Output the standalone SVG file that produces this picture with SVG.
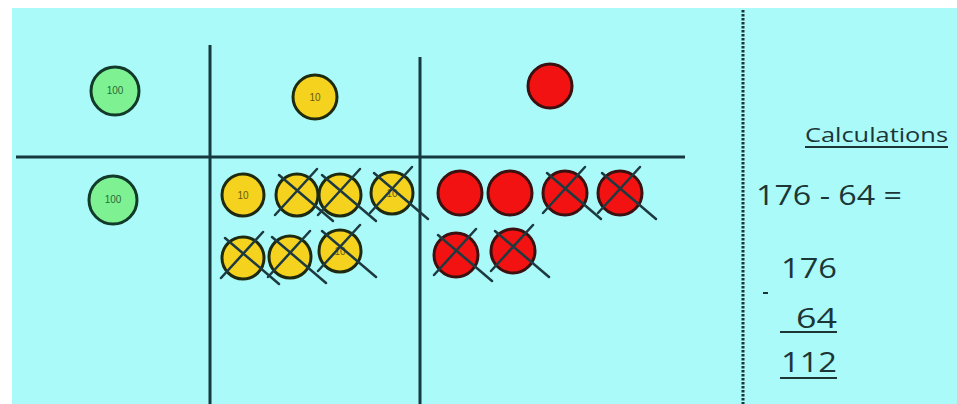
<svg xmlns="http://www.w3.org/2000/svg" width="957" height="404" viewBox="0 0 957 404">
<style>
.grid{stroke:#15393f;stroke-width:3;fill:none}
.g{fill:#7ef292;stroke:#123a2a;stroke-width:3}
.y{fill:#f4d21e;stroke:#1e2a10;stroke-width:3}
.r{fill:#f21212;stroke:#3a1010;stroke-width:3}
.x{stroke:#1d3a40;stroke-width:2.5;stroke-linecap:round}
.ct{font-family:"Liberation Sans",Arial,sans-serif;font-size:10px;text-anchor:middle}
.t{font-family:"Open Sans","Liberation Sans",sans-serif;fill:#1c3535}
.u{stroke:#1c3535;stroke-width:2}
</style>
<defs>
<g id="cross">
<line class="x" x1="-18" y1="-20" x2="36" y2="26"/>
<line class="x" x1="20" y1="-26" x2="-22" y2="20"/>
</g>
</defs>
<rect x="0" y="0" width="957" height="404" fill="#ffffff"/>
<rect x="12" y="8" width="945" height="396" fill="#aafafa"/>
<g id="connectors">
<line class="grid" x1="210" y1="45" x2="210" y2="404"/>
<line class="grid" x1="420" y1="57" x2="420" y2="404"/>
<line class="grid" x1="16" y1="157" x2="685" y2="157"/>
<line stroke="#1c3535" stroke-width="3" stroke-dasharray="2.5 1.5" x1="743" y1="10" x2="743" y2="404"/>
</g>
<g id="hundreds-top"><circle class="g" cx="115" cy="91" r="24"/><text class="ct" x="115" y="94" fill="#2a6a3a">100</text></g>
<g id="tens-top"><circle class="y" cx="315" cy="97" r="22"/><text class="ct" x="315" y="101" fill="#6a5a10">10</text></g>
<g id="ones-top"><circle class="r" cx="550" cy="86" r="22"/></g>
<g id="hundreds-bottom"><circle class="g" cx="113" cy="200" r="24"/><text class="ct" x="113" y="203" fill="#2a6a3a">100</text></g>
<g id="tens-bottom">
<circle class="y" cx="243" cy="195" r="21"/><text class="ct" x="243" y="199" fill="#6a5a10">10</text>
<circle class="y" cx="297" cy="195" r="21"/>
<circle class="y" cx="340" cy="195" r="21"/>
<circle class="y" cx="392" cy="193" r="21"/><text class="ct" x="392" y="197" fill="#6a5a10">10</text>
<circle class="y" cx="243" cy="258" r="21"/>
<circle class="y" cx="290" cy="257" r="21"/>
<circle class="y" cx="340" cy="251" r="21"/><text class="ct" x="340" y="255" fill="#6a5a10">10</text>
<use href="#cross" x="297" y="195"/>
<use href="#cross" x="340" y="195"/>
<use href="#cross" x="392" y="193"/>
<use href="#cross" x="243" y="258"/>
<use href="#cross" x="290" y="257"/>
<use href="#cross" x="340" y="251"/>
</g>
<g id="ones-bottom">
<circle class="r" cx="460" cy="193" r="22"/>
<circle class="r" cx="510" cy="193" r="22"/>
<circle class="r" cx="565" cy="193" r="22"/>
<circle class="r" cx="620" cy="193" r="22"/>
<circle class="r" cx="456" cy="255" r="22"/>
<circle class="r" cx="513" cy="251" r="22"/>
<use href="#cross" x="565" y="193"/>
<use href="#cross" x="620" y="193"/>
<use href="#cross" x="456" y="255"/>
<use href="#cross" x="513" y="251"/>
</g>
<g id="calculations">
<text class="t" x="805" y="142" font-size="20" textLength="143" lengthAdjust="spacingAndGlyphs">Calculations</text>
<line class="u" x1="805" y1="147" x2="948" y2="147"/>
<text class="t" x="756" y="205" font-size="27" textLength="146" lengthAdjust="spacingAndGlyphs">176 - 64 =</text>
<text class="t" x="781" y="278" font-size="27" textLength="56" lengthAdjust="spacingAndGlyphs">176</text>
<line class="u" x1="763" y1="293" x2="768" y2="293"/>
<text class="t" x="796" y="328" font-size="27" textLength="41" lengthAdjust="spacingAndGlyphs">64</text>
<line class="u" x1="780" y1="332" x2="837" y2="332"/>
<text class="t" x="781" y="372" font-size="27" textLength="56" lengthAdjust="spacingAndGlyphs">112</text>
<line class="u" x1="780" y1="378" x2="837" y2="378"/>
</g>
</svg>
